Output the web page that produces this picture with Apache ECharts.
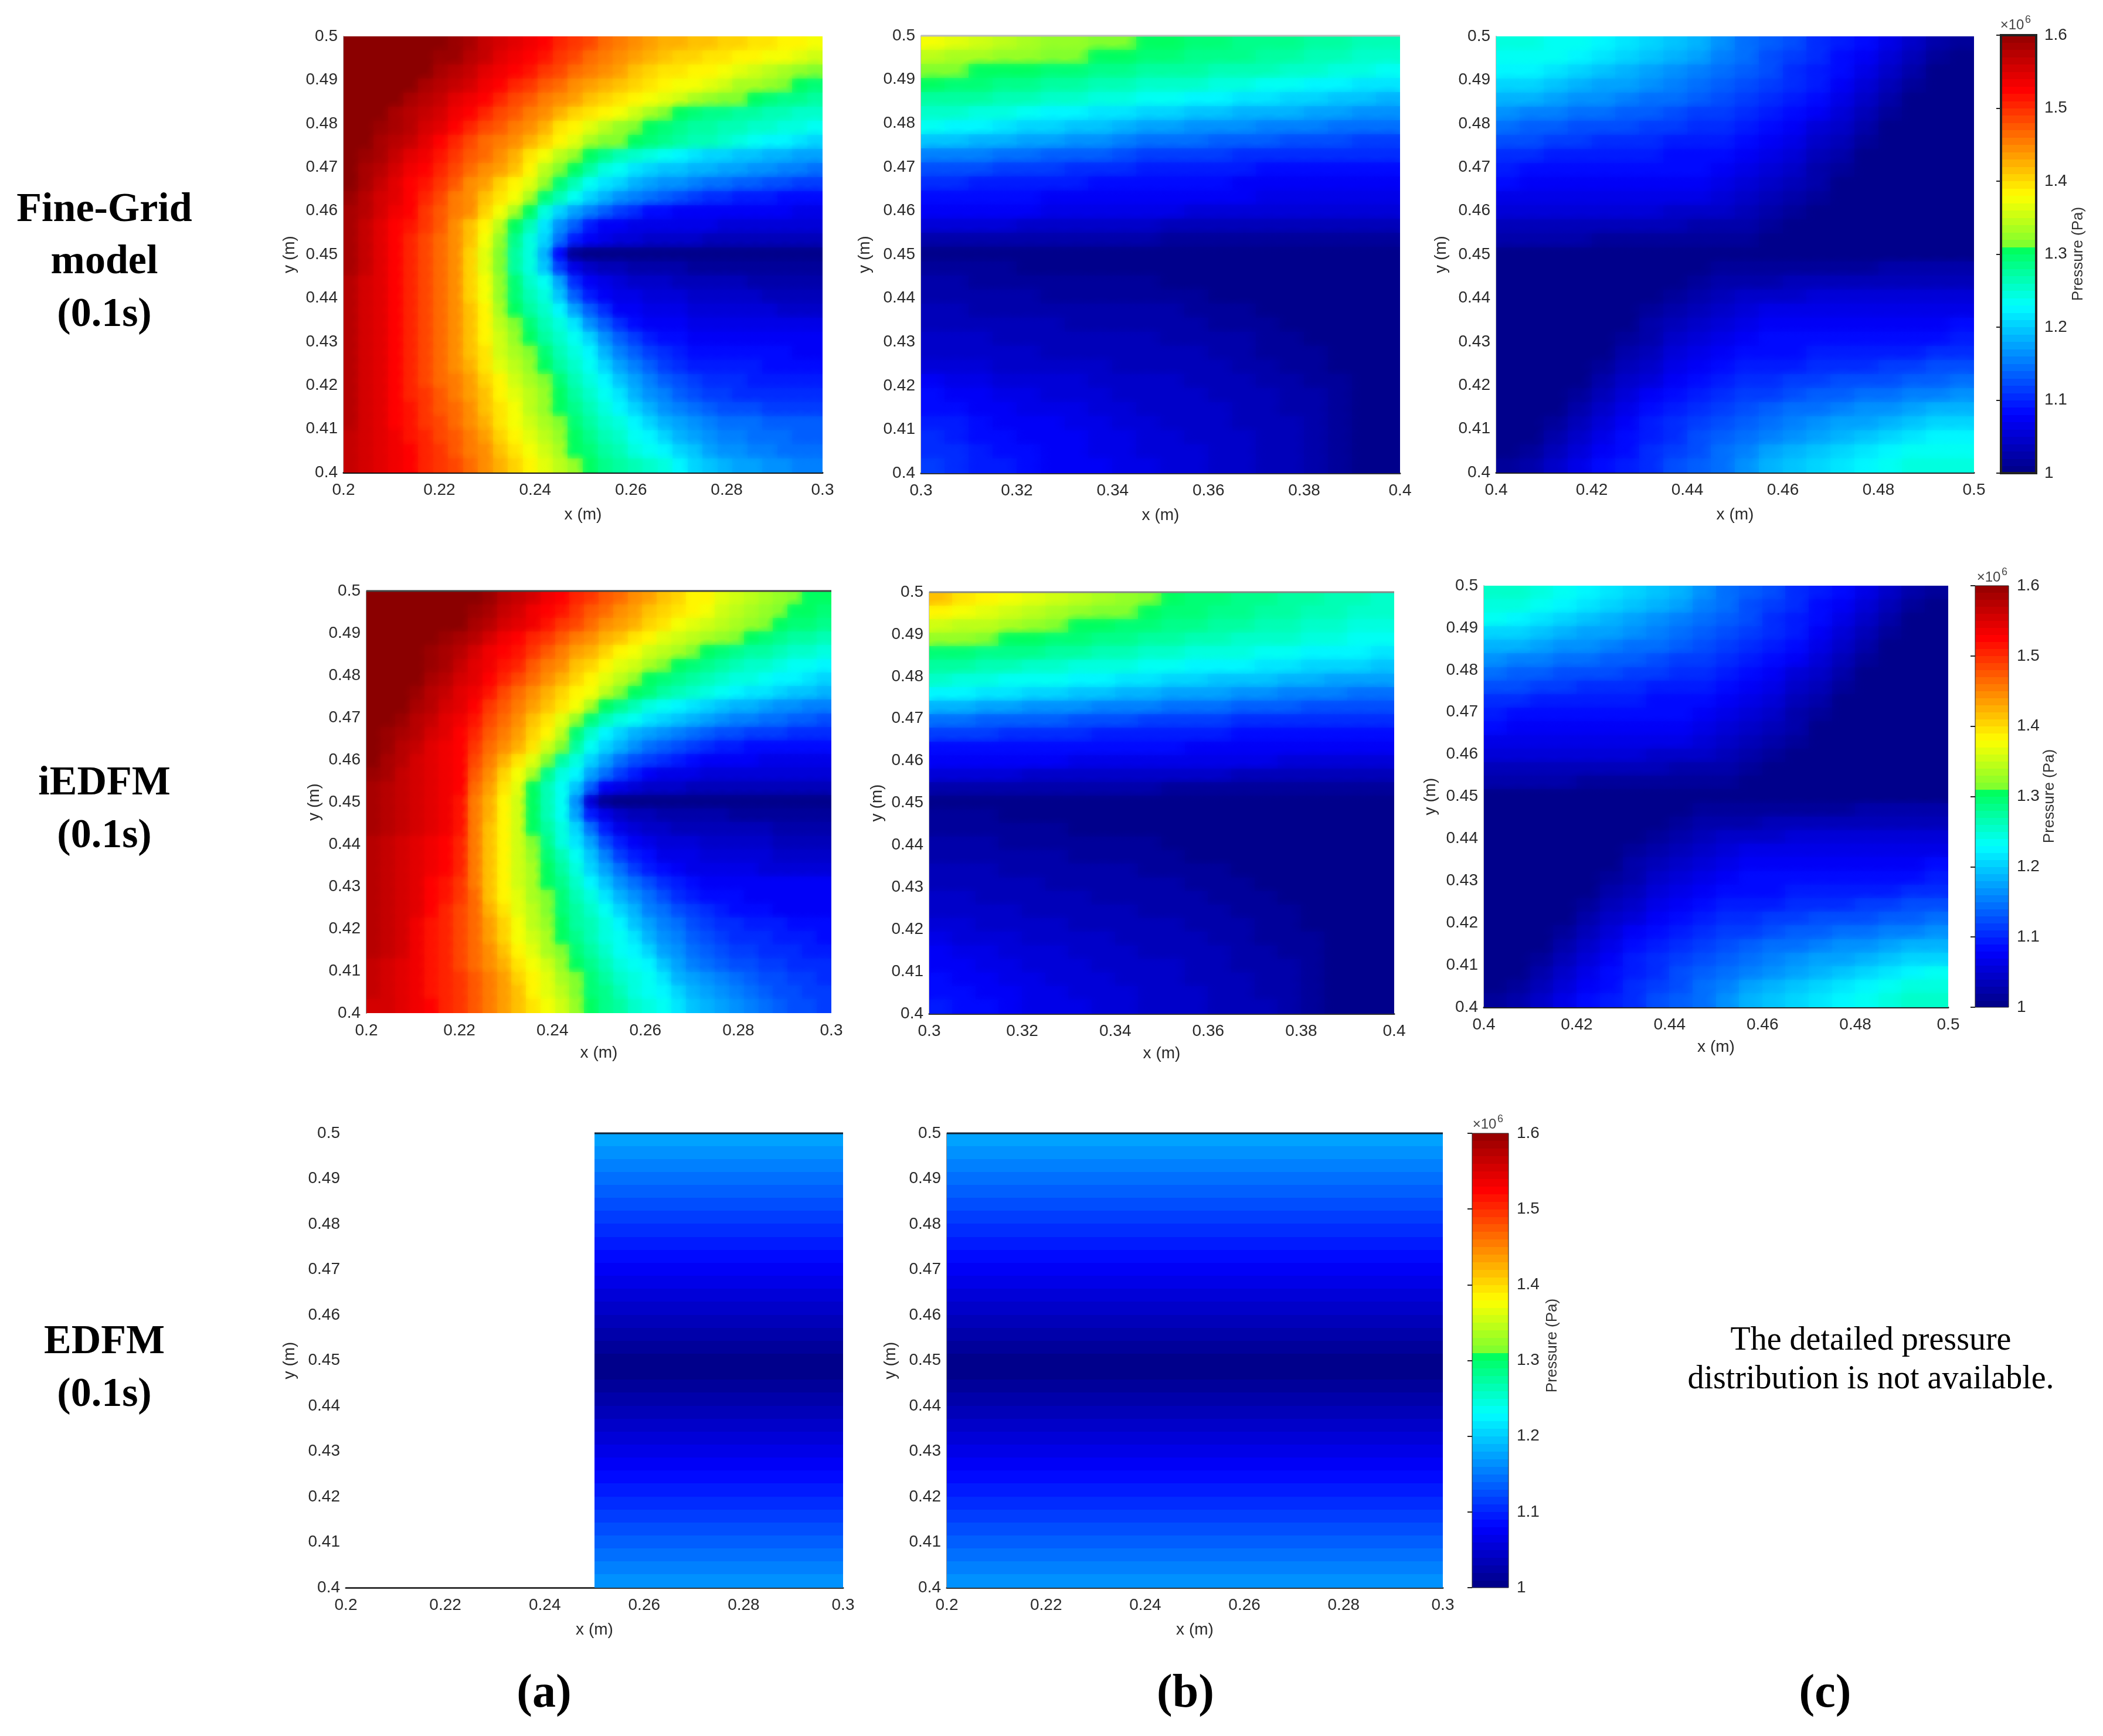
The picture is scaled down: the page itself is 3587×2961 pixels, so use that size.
<!DOCTYPE html>
<html>
<head>
<meta charset="utf-8">
<title>Pressure distribution at 0.1s</title>
<script src="https://cdn.jsdelivr.net/npm/echarts@6/dist/echarts.min.js"></script>
<style>
  html, body { margin: 0; padding: 0; background: #fff; }
  #chart { width: 3587px; height: 2961px; }
</style>
</head>
<body>
<div id="chart"></div>
<script>
// pressure, rows top (y=0.5) to bottom (y=0.4)
// unit: 1e4 Pa above 1e6 Pa, so 60 means 1.6e6 Pa
const fineGridA = [
  [60,60,60,60,60,60,60,59,58,56,55,54,53,52,50,49,48,46,45,44,43,42,42,41,41,40,40,39,39,38,38,37],
  [60,60,60,60,60,60,59,59,57,56,54,53,52,51,49,48,46,45,44,43,42,41,40,40,39,39,38,38,37,37,36,35],
  [60,60,60,60,60,60,58,57,56,54,53,52,51,49,48,46,45,44,43,41,40,39,39,38,38,37,36,35,34,33,32,31],
  [60,60,60,60,60,58,57,56,55,53,52,50,49,47,46,44,43,42,41,40,39,38,37,37,36,35,33,33,32,31,30,29],
  [60,60,60,60,58,57,56,54,53,52,50,48,47,45,44,43,41,40,39,38,37,36,35,33,32,31,31,30,29,28,28,27],
  [60,60,60,58,57,56,55,53,52,50,48,47,45,44,42,40,39,38,37,35,33,31,30,29,28,28,27,27,26,26,25,25],
  [60,60,59,58,57,55,54,52,50,48,47,45,44,42,39,38,36,34,32,31,30,29,28,27,27,26,26,25,25,24,24,23],
  [60,60,58,57,56,54,52,50,48,46,45,44,42,40,38,36,33,31,31,30,29,28,27,26,26,25,24,23,22,22,21,20],
  [60,59,58,56,54,53,51,49,47,46,44,42,39,37,34,32,30,28,26,25,24,23,22,21,20,20,19,19,18,18,17,17],
  [60,58,57,55,53,52,50,48,46,44,43,41,38,34,31,30,27,24,23,21,20,19,19,18,18,17,17,16,16,15,15,14],
  [60,58,56,54,52,51,49,47,44,43,40,38,36,32,29,26,23,21,20,18,17,16,16,15,14,14,13,13,12,12,11,11],
  [59,57,55,54,52,50,48,45,44,41,39,37,33,29,26,23,20,18,16,15,14,13,12,11,10,10,9,9,9,8,8,8],
  [58,57,55,53,52,49,47,45,44,40,37,33,30,24,20,17,15,13,11,10,8,8,7,7,7,7,7,7,7,7,6,6],
  [58,56,54,52,51,49,47,44,41,38,34,30,26,21,16,13,9,7,7,6,6,6,6,6,6,5,5,5,5,5,5,5],
  [58,56,54,52,50,48,46,44,41,37,32,28,24,20,14,9,7,6,5,5,4,4,4,4,3,3,3,3,3,3,3,3],
  [58,56,54,52,50,48,46,44,40,36,31,27,24,18,8,1,0,0,0,0,0,0,0,0,0,0,0,0,0,0,0,0],
  [58,56,54,52,50,48,46,44,40,36,31,27,24,19,11,6,4,3,3,2,2,2,2,1,1,1,1,1,1,1,1,1],
  [57,55,54,52,50,48,46,44,40,37,32,29,25,23,17,10,7,6,5,4,4,4,3,3,3,3,3,2,2,2,2,2],
  [57,55,54,52,50,48,46,44,40,37,32,29,26,24,19,13,9,7,6,6,5,5,5,4,4,4,4,4,3,3,3,3],
  [57,55,54,52,50,48,46,44,41,38,33,30,27,25,22,17,13,10,7,7,6,6,6,5,5,5,5,5,5,4,4,4],
  [57,55,54,52,50,48,46,44,41,38,34,31,29,26,24,21,16,13,10,8,7,7,7,6,6,6,6,6,6,6,6,6],
  [57,55,54,52,50,48,46,44,41,38,35,32,30,27,25,23,20,16,13,11,9,8,8,7,7,7,7,7,7,7,7,7],
  [57,55,54,52,50,48,46,44,41,39,35,33,31,29,26,24,22,18,15,13,11,10,9,8,8,8,8,8,8,8,7,7],
  [57,55,54,52,50,48,46,44,42,39,36,34,32,30,27,25,23,20,17,15,13,11,10,9,9,9,9,9,8,8,8,8],
  [57,55,54,52,50,48,46,45,43,40,38,35,33,31,29,26,24,22,19,17,15,13,12,11,10,10,10,9,9,9,9,9],
  [57,55,54,52,50,49,47,45,43,41,38,36,34,32,30,27,25,23,21,18,16,15,13,12,11,11,10,10,10,10,10,10],
  [57,55,54,52,51,49,47,46,44,41,39,37,34,32,30,28,26,24,22,20,18,16,15,14,13,12,12,12,11,11,11,11],
  [57,55,54,52,51,49,48,46,44,42,39,37,35,33,31,29,27,25,24,22,20,18,17,16,15,14,14,14,13,13,13,13],
  [56,55,54,53,51,50,48,47,45,43,40,38,36,34,32,30,28,26,25,23,22,20,18,17,16,15,15,14,14,14,13,13],
  [56,55,54,53,52,50,49,47,45,44,41,39,37,35,33,30,29,27,26,24,23,22,20,19,17,16,16,15,15,14,14,14],
  [56,55,54,53,52,50,49,48,46,44,42,40,38,36,34,32,30,28,27,26,25,24,22,20,19,18,17,17,16,16,15,15]
];
const fineGridB = [
  [37,36,35,34,33,32,32,31,31,30,30,29,29,28,28,28,27,27,26,26],
  [34,33,33,32,32,31,31,30,30,29,29,28,28,28,27,27,26,26,25,25],
  [31,31,30,30,30,29,29,28,28,27,27,27,26,26,26,25,25,24,24,23],
  [30,29,29,28,28,27,27,26,26,25,25,25,24,24,23,23,22,22,21,21],
  [27,27,27,26,26,25,25,24,24,23,23,22,22,21,21,20,20,19,19,18],
  [25,25,24,24,23,22,22,21,21,20,20,19,19,18,18,18,17,17,16,16],
  [23,22,22,21,20,20,19,19,18,17,17,16,16,16,15,15,15,14,14,14],
  [19,19,18,18,17,17,16,16,15,14,14,14,13,13,13,12,12,12,11,11],
  [15,15,15,14,14,13,13,13,12,11,11,11,11,10,10,10,10,10,10,10],
  [12,12,12,11,11,11,10,10,10,9,9,9,9,9,8,8,8,8,8,8],
  [10,10,9,9,9,9,9,8,8,8,8,8,8,7,7,7,7,7,7,7],
  [8,8,8,8,8,7,7,7,7,7,7,7,7,7,6,6,6,6,6,6],
  [7,7,7,7,7,6,6,6,6,6,6,5,5,5,5,5,5,5,5,5],
  [5,5,5,5,4,4,4,4,4,4,3,3,3,3,3,3,3,3,3,3],
  [2,2,2,2,2,2,2,2,2,2,1,1,1,1,1,1,1,1,1,1],
  [0,0,0,0,0,0,0,0,0,0,0,0,0,0,0,0,0,0,0,0],
  [1,1,1,1,0,0,0,0,0,0,0,0,0,0,0,0,0,0,0,0],
  [2,2,1,1,1,1,1,1,1,1,0,0,0,0,0,0,0,0,0,0],
  [2,2,2,2,2,1,1,1,1,1,1,1,0,0,0,0,0,0,0,0],
  [3,3,2,2,2,2,2,2,2,2,2,1,1,1,0,0,0,0,0,0],
  [3,3,3,3,3,3,2,2,2,2,2,2,1,1,1,0,0,0,0,0],
  [4,4,4,3,3,3,3,3,3,3,2,2,2,2,1,1,0,0,0,0],
  [4,4,4,4,4,3,3,3,3,3,3,3,2,2,1,1,1,0,0,0],
  [5,5,5,4,4,4,4,4,3,3,3,3,3,2,2,1,1,0,0,0],
  [7,6,6,5,5,5,5,4,4,4,4,3,3,3,2,2,1,1,0,0],
  [8,7,7,6,6,5,5,5,4,4,4,4,3,3,3,2,2,1,0,0],
  [8,8,7,7,6,6,6,5,5,4,4,4,4,3,3,2,2,1,0,0],
  [9,9,8,7,7,7,6,6,5,5,4,4,4,3,3,3,2,1,0,0],
  [10,9,8,8,7,7,7,6,6,5,5,4,4,4,3,3,2,1,0,0],
  [10,10,9,8,8,7,7,6,6,5,5,5,4,4,3,3,2,1,0,0],
  [11,10,9,9,8,7,7,7,6,6,5,5,4,4,3,3,2,1,0,0]
];
const fineGridC = [
  [24,24,23,23,22,21,20,19,18,16,14,13,12,10,9,8,6,4,2,1],
  [23,23,23,22,21,20,19,18,17,15,14,12,11,10,8,7,5,3,1,0],
  [22,22,21,20,19,18,17,16,15,14,13,12,10,9,8,6,4,2,0,0],
  [20,20,19,18,17,17,16,15,14,13,12,11,10,9,7,5,3,1,0,0],
  [18,18,17,16,16,15,14,14,13,12,11,10,9,8,6,4,2,0,0,0],
  [16,15,15,14,14,13,13,12,11,11,10,9,8,7,5,3,1,0,0,0],
  [14,13,13,12,12,12,11,11,10,10,9,8,7,5,4,2,0,0,0,0],
  [12,12,11,11,10,10,10,9,9,9,8,7,6,4,3,1,0,0,0,0],
  [10,10,9,9,9,9,9,8,8,8,7,6,5,3,2,0,0,0,0,0],
  [9,8,8,8,8,8,8,8,8,7,6,5,4,2,1,0,0,0,0,0],
  [8,7,7,7,7,7,7,7,7,6,5,4,3,2,0,0,0,0,0,0],
  [6,6,6,6,6,6,6,6,6,5,4,3,2,1,0,0,0,0,0,0],
  [5,5,5,5,5,5,5,4,4,4,3,2,1,0,0,0,0,0,0,0],
  [3,3,3,3,3,3,3,3,2,2,2,1,0,0,0,0,0,0,0,0],
  [2,2,2,2,1,1,1,1,1,1,1,0,0,0,0,0,0,0,0,0],
  [0,0,0,0,0,0,0,0,0,0,0,0,0,0,0,0,0,0,0,0],
  [0,0,0,0,0,0,0,0,0,1,1,1,1,1,1,1,2,2,2,2],
  [0,0,0,0,0,0,0,0,1,2,2,2,3,3,3,3,3,3,3,3],
  [0,0,0,0,0,0,0,1,2,3,4,4,4,5,5,5,5,5,5,5],
  [0,0,0,0,0,0,1,2,3,4,5,6,6,6,6,6,6,6,6,6],
  [0,0,0,0,0,0,2,3,4,5,6,7,7,7,7,7,7,7,7,8],
  [0,0,0,0,0,1,2,4,5,6,7,8,8,8,8,8,8,8,8,9],
  [0,0,0,0,0,2,3,5,6,7,8,8,8,9,9,9,9,9,10,10],
  [0,0,0,0,1,3,4,6,7,8,9,9,9,10,10,10,11,11,12,12],
  [0,0,0,0,2,4,5,7,8,9,10,10,11,11,12,12,12,13,13,14],
  [0,0,0,1,3,5,7,8,9,10,11,11,12,13,13,14,14,15,15,16],
  [0,0,0,2,4,6,8,9,10,11,12,13,14,14,15,16,16,17,18,18],
  [0,0,1,3,5,7,9,10,11,12,13,14,15,16,17,17,18,19,20,20],
  [0,0,2,4,6,8,9,10,12,13,14,15,16,17,18,19,20,21,22,22],
  [0,1,3,5,7,8,10,11,12,14,15,17,18,19,20,21,22,23,23,23],
  [1,2,4,6,8,9,10,12,13,14,16,18,19,20,21,22,23,24,24,24]
];
const iedfmA = [
  [60,60,60,60,60,60,60,60,59,57,56,55,53,52,50,49,47,46,44,43,41,40,38,38,36,35,34,33,32,31,30,30],
  [60,60,60,60,60,60,60,59,58,56,55,53,52,51,49,47,46,44,43,41,40,39,38,37,35,34,33,32,31,30,30,29],
  [60,60,60,60,60,60,60,58,57,55,54,53,51,49,48,46,44,43,42,40,39,37,36,35,34,33,32,31,30,29,29,28],
  [60,60,60,60,60,59,58,57,55,53,52,50,49,47,45,44,42,41,39,38,36,35,34,33,32,31,30,29,28,27,27,26],
  [60,60,60,60,59,58,57,55,53,52,51,49,47,45,43,42,40,38,37,35,34,33,31,30,29,28,27,27,26,25,25,24],
  [60,60,60,60,59,58,56,54,53,51,50,47,45,44,41,40,38,36,35,33,31,30,29,28,27,26,25,25,24,23,23,22],
  [60,60,60,60,58,57,55,54,52,50,48,46,44,42,40,38,36,34,32,30,29,28,27,26,25,24,24,23,22,22,21,20],
  [60,60,60,59,57,56,54,53,51,48,46,44,42,40,38,37,34,31,30,29,27,26,25,24,23,22,21,21,20,19,19,18],
  [60,60,60,58,57,55,54,52,49,47,45,43,41,39,37,33,30,28,26,24,23,22,21,20,19,18,18,17,16,16,15,15],
  [60,60,59,57,56,54,53,51,48,46,44,41,39,36,32,29,26,24,23,21,20,19,18,17,16,15,15,14,14,13,13,12],
  [60,59,58,57,55,54,52,50,47,45,43,40,38,34,29,25,22,20,18,17,16,15,14,13,12,12,11,11,11,10,10,10],
  [60,59,57,56,54,53,52,49,46,44,42,39,35,31,27,23,20,18,16,14,13,12,11,10,9,9,8,8,8,8,8,8],
  [60,58,57,55,54,53,52,48,45,42,39,36,31,27,24,20,17,14,12,11,10,9,8,7,7,7,7,6,6,6,6,6],
  [59,58,56,55,54,53,52,47,44,40,37,33,28,24,22,17,14,11,9,7,6,6,6,5,5,5,5,5,5,5,5,5],
  [58,57,56,55,54,53,52,46,43,39,36,30,26,23,19,13,7,6,5,4,4,4,3,3,3,3,3,3,3,3,3,3],
  [58,57,56,55,54,53,51,45,42,38,35,30,26,23,16,5,1,0,0,0,0,0,0,0,0,0,0,0,0,0,0,0],
  [58,57,56,55,54,53,51,45,42,38,35,30,26,23,17,9,6,4,3,3,2,2,2,2,2,1,1,1,1,1,1,1],
  [58,57,56,55,54,53,51,45,41,38,35,30,27,24,20,14,9,6,5,4,4,3,3,3,3,3,3,3,2,2,2,2],
  [57,56,55,54,53,52,50,45,41,38,35,31,28,24,21,17,12,9,7,6,5,5,5,4,4,4,4,4,3,3,3,3],
  [57,56,55,54,53,52,50,45,41,38,35,32,29,26,23,19,15,11,9,8,6,6,6,5,5,5,5,5,4,4,4,4],
  [57,56,55,54,53,52,50,45,41,38,35,33,30,27,24,20,17,14,11,9,8,7,6,6,6,6,6,5,5,5,5,5],
  [57,56,55,54,52,51,49,45,41,38,35,33,30,28,25,22,19,16,14,12,10,9,8,7,7,7,7,7,7,7,7,7],
  [57,56,55,54,52,51,49,46,41,38,36,33,31,29,26,24,21,18,16,14,12,10,9,8,8,8,7,7,7,7,7,7],
  [57,56,55,54,52,50,48,46,42,39,36,34,31,29,27,25,23,20,18,15,14,12,11,10,9,8,8,8,7,7,7,7],
  [57,56,55,53,51,50,48,46,43,40,37,34,32,30,27,26,24,22,19,17,15,14,12,11,10,10,9,9,9,8,8,8],
  [57,56,55,53,51,50,48,46,43,40,37,35,33,30,28,26,24,23,21,18,16,15,13,12,11,10,10,10,9,9,9,8],
  [57,56,55,53,51,50,48,46,44,41,38,36,33,31,29,27,25,23,22,20,17,16,14,13,12,11,11,10,10,10,9,9],
  [56,55,54,53,51,50,48,46,44,42,39,37,35,32,30,28,26,24,23,22,19,17,15,14,13,12,12,11,11,10,10,10],
  [56,55,54,53,51,50,49,47,45,43,40,38,36,33,31,29,27,25,24,23,21,18,17,16,15,14,13,12,12,11,11,10],
  [56,55,54,53,51,50,49,47,45,43,41,38,36,34,31,29,28,26,24,23,22,20,18,17,16,15,14,13,12,12,11,11],
  [55,55,54,53,52,50,49,47,45,43,41,39,37,35,32,30,28,27,25,24,23,21,19,18,17,16,15,14,13,12,12,11]
];
const iedfmB = [
  [41,39,38,37,36,35,34,33,32,31,30,29,29,28,28,27,27,26,26,25],
  [38,37,36,35,34,33,32,31,31,30,29,29,28,28,27,27,26,26,25,25],
  [35,34,34,33,32,31,30,30,29,29,28,28,27,27,26,26,25,25,24,24],
  [32,32,31,30,30,29,29,28,28,27,27,26,26,25,25,25,24,24,23,23],
  [29,29,28,28,28,27,27,26,26,25,25,24,24,24,23,23,22,22,22,21],
  [27,27,26,26,25,25,24,24,24,23,23,22,22,22,21,21,20,20,20,19],
  [25,24,24,23,23,23,22,22,21,21,20,20,19,19,19,18,18,17,17,17],
  [22,22,21,21,20,20,19,19,18,18,17,17,17,16,16,15,15,15,14,14],
  [18,18,17,17,16,16,16,15,15,15,14,14,14,13,13,13,12,12,12,12],
  [14,14,13,13,13,13,12,12,12,11,11,11,11,10,10,10,10,10,10,10],
  [11,11,11,10,10,10,10,9,9,9,9,9,9,8,8,8,8,8,8,8],
  [8,8,8,8,8,8,8,8,8,8,8,7,7,7,7,7,7,7,7,7],
  [7,7,7,7,7,7,6,6,6,6,6,6,6,6,6,5,5,5,5,5],
  [5,5,5,5,4,4,4,4,4,4,4,4,4,3,3,3,3,3,3,3],
  [2,2,2,2,2,2,2,2,2,2,1,1,1,1,1,1,1,1,1,1],
  [0,0,0,0,0,0,0,0,0,0,0,0,0,0,0,0,0,0,0,0],
  [1,1,1,0,0,0,0,0,0,0,0,0,0,0,0,0,0,0,0,0],
  [1,1,1,1,1,1,0,0,0,0,0,0,0,0,0,0,0,0,0,0],
  [2,2,2,1,1,1,1,1,1,1,0,0,0,0,0,0,0,0,0,0],
  [2,2,2,2,2,2,1,1,1,1,1,0,0,0,0,0,0,0,0,0],
  [3,3,3,2,2,2,2,2,2,1,1,1,1,0,0,0,0,0,0,0],
  [3,3,3,3,3,2,2,2,2,2,2,1,1,1,0,0,0,0,0,0],
  [4,4,3,3,3,3,3,2,2,2,2,2,1,1,1,0,0,0,0,0],
  [4,4,4,4,3,3,3,3,3,2,2,2,2,1,1,1,0,0,0,0],
  [5,5,4,4,4,4,3,3,3,3,3,2,2,2,1,1,0,0,0,0],
  [6,5,5,5,4,4,4,4,3,3,3,3,2,2,1,1,1,0,0,0],
  [7,6,6,5,5,5,4,4,4,3,3,3,3,2,2,1,1,0,0,0],
  [7,7,6,6,5,5,5,4,4,4,4,3,3,2,2,2,1,0,0,0],
  [8,7,7,6,6,5,5,5,4,4,4,3,3,3,2,2,1,0,0,0],
  [8,8,7,7,6,6,5,5,5,4,4,4,3,3,2,2,1,0,0,0],
  [9,8,8,7,6,6,6,5,5,4,4,4,3,3,3,2,1,0,0,0]
];
const iedfmC = [
  [25,25,24,23,22,21,20,19,18,16,14,13,12,10,9,8,6,4,2,1],
  [24,24,23,22,21,20,19,18,17,15,14,12,11,10,8,7,5,3,1,0],
  [23,22,21,20,19,18,17,16,15,14,13,12,10,9,8,6,4,2,0,0],
  [20,20,19,18,17,17,16,15,14,13,12,11,10,9,7,5,3,1,0,0],
  [18,18,17,16,16,15,14,14,13,12,11,10,9,8,6,4,2,0,0,0],
  [16,15,15,14,14,13,13,12,11,11,10,9,8,7,5,3,1,0,0,0],
  [14,13,13,12,12,12,11,11,10,10,9,8,7,5,4,2,0,0,0,0],
  [12,12,11,11,10,10,10,9,9,9,8,7,6,4,3,1,0,0,0,0],
  [10,10,9,9,9,9,9,8,8,8,7,6,5,3,2,0,0,0,0,0],
  [9,8,8,8,8,8,8,8,8,7,6,5,4,2,1,0,0,0,0,0],
  [8,7,7,7,7,7,7,7,7,6,5,4,3,2,0,0,0,0,0,0],
  [6,6,6,6,6,6,6,6,6,5,4,3,2,1,0,0,0,0,0,0],
  [5,5,5,5,5,5,5,4,4,4,3,2,1,0,0,0,0,0,0,0],
  [3,3,3,3,3,3,3,3,2,2,2,1,0,0,0,0,0,0,0,0],
  [2,2,2,2,1,1,1,1,1,1,1,0,0,0,0,0,0,0,0,0],
  [0,0,0,0,0,0,0,0,0,0,0,0,0,0,0,0,0,0,0,0],
  [0,0,0,0,0,0,0,0,0,1,1,1,1,1,1,1,2,2,2,2],
  [0,0,0,0,0,0,0,0,1,2,2,2,3,3,3,3,3,3,3,3],
  [0,0,0,0,0,0,0,1,2,3,4,4,4,5,5,5,5,5,5,5],
  [0,0,0,0,0,0,1,2,3,4,5,6,6,6,6,6,6,6,6,6],
  [0,0,0,0,0,0,2,3,4,5,6,7,7,7,7,7,7,7,7,8],
  [0,0,0,0,0,1,2,4,5,6,7,8,8,8,8,8,8,8,8,9],
  [0,0,0,0,0,2,3,5,6,7,8,8,8,9,9,9,9,9,10,10],
  [0,0,0,0,1,3,4,6,7,8,9,9,9,10,10,10,11,11,12,12],
  [0,0,0,0,2,4,5,7,8,9,10,10,11,11,12,12,12,13,13,14],
  [0,0,0,1,3,5,7,8,9,10,11,11,12,13,13,14,14,15,15,16],
  [0,0,0,2,4,6,8,9,10,11,12,13,14,14,15,16,16,17,18,18],
  [0,0,1,3,5,7,9,10,11,12,13,14,15,16,17,17,18,19,20,20],
  [0,0,2,4,6,8,9,10,12,13,14,15,16,17,18,19,20,21,22,23],
  [0,1,3,5,7,8,10,11,12,14,15,17,18,19,20,21,22,23,24,24],
  [1,2,4,6,8,9,10,12,13,14,16,18,19,20,21,22,23,24,25,25]
];
// EDFM only varies with y
const edfmProfile = [17,16,15,14,13,12,11,10,9,8,7,6,5,4,3,2,1,0,0,1,2,3,4,5,6,7,8,9,10,11,12,13,14,15,16];
const colorbarLevels = [0,1,2,3,4,5,6,7,8,9,10,11,12,13,14,15,16,17,18,19,20,21,22,23,24,25,26,27,28,29,30,31,32,33,34,35,36,37,38,39,40,41,42,43,44,45,46,47,48,49,50,51,52,53,54,55,56,57,58,59];

const rowLabels = [
  { lines: ['Fine-Grid', 'model', '(0.1s)'], y: [359, 448, 538] },
  { lines: ['iEDFM', '(0.1s)'], y: [1337, 1427] },
  { lines: ['EDFM', '(0.1s)'], y: [2290, 2380] }
];
const panelLetters = [['(a)', 928], ['(b)', 2022], ['(c)', 3113]];
const noteLines = ['The detailed pressure', 'distribution is not available.'];

// jet with the hard step at 1.3 that the figure's colorbar has
const jetStops = [
  [0, [0, 0, 139]], [7.5, [0, 0, 255]], [22.5, [0, 255, 255]], [30, [0, 255, 96]],
  [30.5, [120, 255, 48]], [37.5, [255, 255, 0]], [52, [255, 0, 0]], [60, [139, 0, 0]]
];

function jetRgb(v) {
  for (let i = 1; i < jetStops.length; i++) {
    if (v <= jetStops[i][0]) {
      const a = jetStops[i - 1], b = jetStops[i];
      const t = (v - a[0]) / (b[0] - a[0]);
      return a[1].map((n, k) => Math.round(n + (b[1][k] - n) * t)).join(',');
    }
  }
  return '139,0,0';
}

const tickFont = { fontFamily: 'Liberation Sans', fontSize: 28, color: '#2a2a2a' };

const panels = [
  { rows: fineGridA, x: [0.2, 0.3], box: [586, 62, 1403, 806], yGap: 78, xGap: 58, soft: true, bottom: '#111', left: '#bbb' },
  { rows: fineGridB, x: [0.3, 0.4], box: [1571, 61, 2388, 807], yGap: 82, xGap: 58, soft: true, bottom: '#333', left: '#bbb', top: '#bbb' },
  { rows: fineGridC, x: [0.4, 0.5], box: [2552, 62, 3367, 806], yGap: 80, xGap: 58, soft: true, bottom: '#222', left: '#bbb' },
  { rows: iedfmA, x: [0.2, 0.3], box: [625, 1008, 1418, 1728], yGap: 75, xGap: 54, soft: true, left: '#888', top: '#444' },
  { rows: iedfmB, x: [0.3, 0.4], box: [1585, 1010, 2378, 1729], yGap: 75, xGap: 54, soft: true, bottom: '#333', left: '#bbb', top: '#888' },
  { rows: iedfmC, x: [0.4, 0.5], box: [2531, 999, 3323, 1718], yGap: 77, xGap: 54, soft: true, bottom: '#222', left: '#bbb' },
  { rows: edfmProfile.map(v => [v]), x: [0.2, 0.3], fill: [0.25, 0.3], box: [590, 1933, 1438, 2708], yGap: 82, xGap: 58, bottom: '#333', top: '#123' },
  { rows: edfmProfile.map(v => [v]), x: [0.2, 0.3], box: [1615, 1933, 2461, 2708], yGap: 82, xGap: 58, bottom: '#333', left: '#888', top: '#123' }
];
const colorbars = [
  { box: [3413, 60, 3473, 807], border: 4, name: [3545, 433], scale: [3432, 43] },
  { box: [3369, 999, 3426, 1718], border: 1, name: [3496, 1358], scale: [3392, 985] },
  { box: [2511, 1933, 2573, 2708], border: 1, name: [2648, 2295], scale: [2532, 1918] }
];

const grid = [], xAxis = [], yAxis = [], series = [], graphic = [];

function addGrid(box, extra) {
  grid.push(Object.assign({ left: box[0], top: box[1], width: box[2] - box[0], height: box[3] - box[1] }, extra));
  return grid.length - 1;
}

function cellSeries(idx, data, dx, dy) {
  return {
    type: 'custom', xAxisIndex: idx, yAxisIndex: idx, data: data, silent: true,
    animation: false, progressive: 0, clip: true, z: 2,
    encode: { x: 0, y: 1 },
    renderItem(params, api) {
      const a = api.coord([api.value(0) - dx / 2, api.value(1) + dy / 2]);
      const b = api.coord([api.value(0) + dx / 2, api.value(1) - dy / 2]);
      const x = Math.floor(a[0]), y = Math.floor(a[1]);
      return {
        type: 'rect',
        shape: { x: x, y: y, width: Math.ceil(b[0]) - x, height: Math.ceil(b[1]) - y },
        style: { fill: 'rgb(' + jetRgb(api.value(2)) + ')' }
      };
    }
  };
}

// same values again as soft round patches on top, so the cell edges melt together
function softSeries(idx, data, dx, dy) {
  return {
    type: 'custom', xAxisIndex: idx, yAxisIndex: idx, data: data, silent: true,
    animation: false, progressive: 0, clip: true, z: 3,
    encode: { x: 0, y: 1 },
    renderItem(params, api) {
      const c = api.coord([api.value(0), api.value(1)]);
      const s = api.size([dx, dy]);
      const rgb = jetRgb(api.value(2));
      return {
        type: 'rect', x: c[0], y: c[1], scaleX: s[0], scaleY: s[1],
        shape: { x: -1, y: -1, width: 2, height: 2 },
        style: {
          fill: {
            type: 'radial', x: 0.5, y: 0.5, r: 0.5,
            colorStops: [
              { offset: 0, color: 'rgba(' + rgb + ',1)' },
              { offset: 1, color: 'rgba(' + rgb + ',0)' }
            ]
          }
        }
      };
    }
  };
}

panels.forEach(p => {
  const idx = addGrid(p.box, {});
  xAxis.push({
    type: 'value', gridIndex: idx, min: p.x[0], max: p.x[1], interval: 0.02,
    name: 'x (m)', nameLocation: 'middle', nameGap: p.xGap,
    nameTextStyle: tickFont, axisLabel: Object.assign({ margin: 16 }, tickFont),
    axisLine: { show: !!p.bottom, lineStyle: { color: p.bottom, width: 3 } },
    axisTick: { show: false }, splitLine: { show: false }
  });
  yAxis.push({
    type: 'value', gridIndex: idx, min: 0.4, max: 0.5, interval: 0.01,
    name: 'y (m)', nameLocation: 'middle', nameGap: p.yGap,
    nameTextStyle: tickFont, axisLabel: Object.assign({ margin: 10 }, tickFont),
    axisLine: { show: !!p.left, lineStyle: { color: p.left, width: 2 } },
    axisTick: { show: false }, splitLine: { show: false }
  });
  const fill = p.fill || p.x;
  const nr = p.rows.length, nc = p.rows[0].length;
  const dx = (fill[1] - fill[0]) / nc, dy = 0.1 / nr;
  const data = [];
  p.rows.forEach((row, r) => row.forEach((v, c) => {
    data.push([fill[0] + (c + 0.5) * dx, 0.5 - (r + 0.5) * dy, v]);
  }));
  series.push(cellSeries(idx, data, dx, dy));
  if (p.soft) series.push(softSeries(idx, data, dx, dy));
  if (p.top) {
    series.push({
      type: 'line', xAxisIndex: idx, yAxisIndex: idx, silent: true, animation: false,
      symbol: 'none', clip: false, z: 5,
      data: [[fill[0], 0.5], [fill[1], 0.5]], lineStyle: { color: p.top, width: 3 }
    });
  }
});

colorbars.forEach(cb => {
  const idx = addGrid(cb.box, { show: true, backgroundColor: 'transparent', borderColor: '#222', borderWidth: cb.border, z: 5 });
  xAxis.push({ type: 'value', gridIndex: idx, min: 0, max: 1, show: false });
  yAxis.push({
    type: 'value', gridIndex: idx, position: 'right', min: 100, max: 160, interval: 10,
    axisLine: { show: false }, splitLine: { show: false },
    axisTick: { show: true, inside: true, length: 8, lineStyle: { color: '#222', width: 2 } },
    axisLabel: Object.assign({ margin: 14, formatter: v => String(v / 100) }, tickFont)
  });
  series.push(cellSeries(idx, colorbarLevels.map(v => [0.5, 100.5 + v, v]), 1, 1));
  graphic.push({
    type: 'text', x: cb.name[0], y: cb.name[1], rotation: Math.PI / 2, originX: 0, originY: 0,
    style: { text: 'Pressure (Pa)', font: '26px "Liberation Sans"', fill: '#333', textAlign: 'center', textVerticalAlign: 'middle' }
  });
  graphic.push({
    type: 'text', x: cb.scale[0], y: cb.scale[1],
    style: { text: '×10', font: '24px "Liberation Sans"', fill: '#444', textAlign: 'center', textVerticalAlign: 'middle' }
  });
  graphic.push({
    type: 'text', x: cb.scale[0] + 27, y: cb.scale[1] - 9,
    style: { text: '6', font: '18px "Liberation Sans"', fill: '#444', textAlign: 'center', textVerticalAlign: 'middle' }
  });
});

function centred(text, x, y, font) {
  graphic.push({
    type: 'text', x: x, y: y,
    style: { text: text, font: font, fill: '#000', textAlign: 'center', textVerticalAlign: 'middle' }
  });
}
rowLabels.forEach(r => r.lines.forEach((t, i) => centred(t, 178, r.y[i], 'bold 70px "Liberation Serif"')));
panelLetters.forEach(l => centred(l[0], l[1], 2890, 'bold 80px "Liberation Serif"'));
noteLines.forEach((t, i) => centred(t, 3191, 2287 + i * 66, '56px "Liberation Serif"'));

const chart = echarts.init(document.getElementById('chart'), null, { renderer: 'canvas' });
chart.setOption({
  animation: false,
  backgroundColor: '#fff',
  grid: grid, xAxis: xAxis, yAxis: yAxis, series: series, graphic: { elements: graphic }
});
</script>
</body>
</html>
